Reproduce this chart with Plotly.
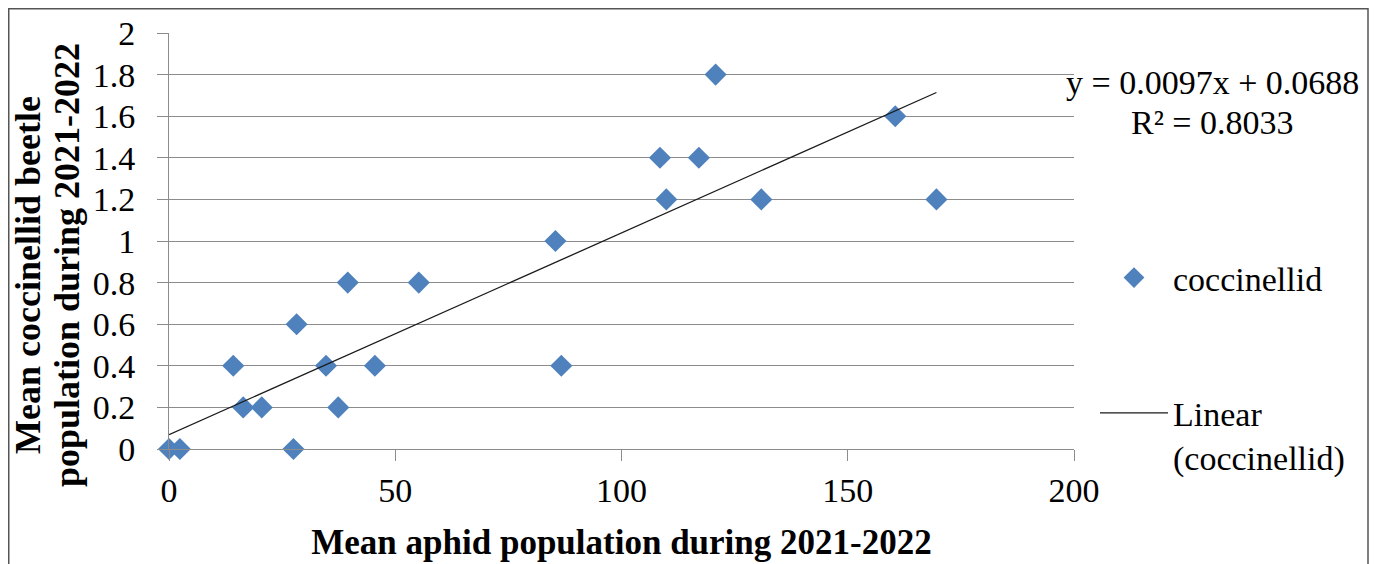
import plotly.graph_objects as go

# Data
aphid = [0, 2.4, 14.2, 16.4, 20.5, 27.5, 28.2, 34.7, 37.4, 39.5, 45.5, 55.2,
         85.4, 86.7, 108.5, 109.9, 117.1, 120.8, 130.9, 160.5, 169.6]
coccinellid = [0, 0, 0.4, 0.2, 0.2, 0, 0.6, 0.4, 0.2, 0.8, 0.4, 0.8,
               1.0, 0.4, 1.4, 1.2, 1.4, 1.8, 1.2, 1.6, 1.2]
slope = 0.0097
intercept = 0.0688
r_squared = 0.8033
x_ticks = [0, 50, 100, 150, 200]
y_ticks = [0, 0.2, 0.4, 0.6, 0.8, 1, 1.2, 1.4, 1.6, 1.8, 2]
y_title_lines = ["Mean coccinellid beetle", "population during 2021-2022"]
x_title = "Mean aphid population during 2021-2022"

trend_x = [0, max(aphid)]
trend_y = [slope * v + intercept for v in trend_x]

FONT = "Liberation Serif"
GRID = "#8c8c8c"
OFF = 8  # page body margin
W, H = 1383, 564
L, R, T, B = 169 - OFF, W - (1074 - OFF), 33 - OFF, H - (449 - OFF)
PW, PH = W - L - R, H - T - B


def px_x(p):
    return (p - OFF - L) / PW


def px_y(p):
    return (H - B - (p - OFF)) / PH


fig = go.Figure()
fig.add_trace(go.Scatter(
    x=aphid, y=coccinellid, mode="markers", name="coccinellid",
    marker=dict(symbol="diamond", size=17, color="#4F81BD"),
    cliponaxis=False, legendgroup="a",
))
fig.add_trace(go.Scatter(
    x=trend_x, y=trend_y, mode="lines", name="Linear<br>(coccinellid)",
    line=dict(color="#1a1a1a", width=1.3), legendgroup="b",
))

annotations = [
    dict(xref="paper", yref="paper", x=px_x(1212), y=px_y(82),
         xanchor="center", yanchor="middle", showarrow=False,
         text=f"y = {slope}x + {intercept}",
         font=dict(family=FONT, size=34, color="black")),
    dict(xref="paper", yref="paper", x=px_x(1212), y=px_y(122),
         xanchor="center", yanchor="middle", showarrow=False,
         text=f"R² = {r_squared}",
         font=dict(family=FONT, size=34, color="black")),
]
for txt, cx, cy in zip(y_title_lines, [28, 67], [275, 265]):
    annotations.append(dict(
        xref="paper", yref="paper", x=px_x(cx), y=px_y(cy),
        xanchor="center", yanchor="middle", showarrow=False, textangle=-90,
        text=f"<b>{txt}</b>", font=dict(family=FONT, size=36, color="black")))

fig.update_layout(
    width=W, height=H,
    margin=dict(l=L, r=R, t=T, b=B, autoexpand=False),
    paper_bgcolor="white", plot_bgcolor="white",
    font=dict(family=FONT, size=34, color="black"),
    showlegend=True,
    legend=dict(
        x=px_x(1095), xanchor="left", y=px_y(249), yanchor="top",
        font=dict(family=FONT, size=34, color="black"),
        tracegroupgap=88, valign="top", itemwidth=68,
        bgcolor="rgba(0,0,0,0)",
    ),
    xaxis=dict(
        range=[0, 200], tickvals=x_ticks, ticktext=[str(v) for v in x_ticks],
        showgrid=False, zeroline=False, automargin=False,
        showline=True, linecolor=GRID, linewidth=1,
        ticks="outside", ticklen=11, tickcolor=GRID, tickwidth=1,
        ticklabelstandoff=0,
        title=dict(text=f"<b>{x_title}</b>",
                   font=dict(family=FONT, size=35), standoff=21),
    ),
    yaxis=dict(
        range=[0, 2], tickvals=y_ticks, ticktext=[f"{v:g}" for v in y_ticks],
        showgrid=True, gridcolor=GRID, gridwidth=1, zeroline=False, automargin=False,
        showline=True, linecolor=GRID, linewidth=1,
        ticks="outside", ticklen=11, tickcolor=GRID, tickwidth=1,
        ticklabelstandoff=15,
    ),
    annotations=annotations,
    shapes=[dict(
        type="rect", xref="paper", yref="paper",
        x0=px_x(OFF + 0.75), x1=px_x(1368), y0=px_y(620), y1=px_y(OFF + 0.75),
        line=dict(color="#555555", width=1.5), fillcolor="rgba(0,0,0,0)",
        layer="below",
    )],
)

fig.write_html("out.html")
